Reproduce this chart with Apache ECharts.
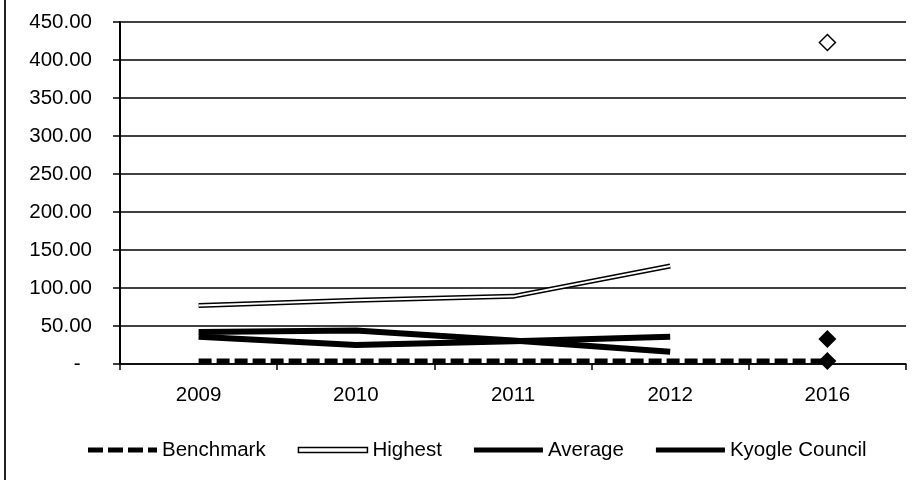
<!DOCTYPE html>
<html>
<head>
<meta charset="utf-8">
<script src="https://cdn.jsdelivr.net/npm/echarts@6/dist/echarts.min.js"></script>
<style>
html,body{margin:0;padding:0;background:#fff;}
#chart{width:923px;height:480px;}
</style>
</head>
<body>
<div id="chart"></div>
<script>
const categories = ['2009', '2010', '2011', '2012', '2016'];
const benchmark = [4, 4, 4, 4, 4];
const highest = [77, 84, 89, 129, null];
const average = [42, 44, 31, 16, null];
const kyogle = [36, 25, 30, 36, null];
const highest2016 = [null, null, null, null, 423];
const kyogle2016 = [null, null, null, null, 33];
const benchmark2016 = [null, null, null, null, 4];
const yTicks = [0, 50, 100, 150, 200, 250, 300, 350, 400, 450];

const FONT = '"Liberation Sans", Arial, sans-serif';
const DASH_ICON = 'path://M0,0h15v5h-15z M20,0h15v5h-15z M40,0h15v5h-15z M60,0h9v5h-9z';
const chart = echarts.init(document.getElementById('chart'));
chart.setOption({
  animation: false,
  backgroundColor: '#fff',
  graphic: [{
    type: 'line', shape: {x1: 5, y1: 0, x2: 5, y2: 480},
    style: {stroke: '#222', lineWidth: 2}
  }],
  grid: {left: 120, right: 17, top: 22, bottom: 116},
  legend: {
    left: 83, top: 434,
    itemWidth: 69, itemHeight: 5, itemGap: 32,
    textStyle: {fontFamily: FONT, fontSize: 20.5, color: '#000', lineHeight: 22},
    data: [
      {name: 'Benchmark', icon: DASH_ICON, itemStyle: {color: '#000'}},
      {name: 'Highest', icon: 'rect', itemStyle: {color: '#fff', borderColor: '#000', borderWidth: 1.5}},
      {name: 'Average', icon: 'rect', itemStyle: {color: '#000'}},
      {name: 'Kyogle Council', icon: 'rect', itemStyle: {color: '#000'}}
    ]
  },
  xAxis: {
    type: 'category', data: categories,
    axisLine: {lineStyle: {color: '#000', width: 1.5}},
    axisTick: {show: true, length: 6, lineStyle: {color: '#000', width: 1.5}},
    axisLabel: {fontFamily: FONT, fontSize: 20.5, color: '#000', margin: 21}
  },
  yAxis: {
    type: 'value', min: yTicks[0], max: yTicks[yTicks.length - 1], interval: 50,
    axisLine: {show: true, lineStyle: {color: '#000', width: 2}},
    axisTick: {show: true, length: 7, lineStyle: {color: '#000', width: 1.5}},
    splitLine: {show: true, lineStyle: {color: '#000', width: 1.5}},
    axisLabel: {
      fontFamily: FONT, fontSize: 20.5, color: '#000', margin: 28,
      formatter: v => v === 0 ? '-  ' : v.toFixed(2)
    }
  },
  series: [
    {name: 'Benchmark', type: 'line', data: benchmark, symbol: 'none', z: 3,
     lineStyle: {color: '#000', width: 5, type: [13, 5]}, itemStyle: {color: '#000'}},
    {name: 'Highest', type: 'line', data: highest, symbol: 'none', z: 3,
     lineStyle: {color: '#000', width: 5}, itemStyle: {color: '#000'}},
    {name: 'Highest inner', type: 'line', data: highest, symbol: 'none', z: 4,
     lineStyle: {color: '#fff', width: 2}, itemStyle: {color: '#fff'}},
    {name: 'Average', type: 'line', data: average, symbol: 'none', z: 3,
     lineStyle: {color: '#000', width: 6}, itemStyle: {color: '#000'}},
    {name: 'Kyogle Council', type: 'line', data: kyogle, symbol: 'none', z: 3,
     lineStyle: {color: '#000', width: 6}, itemStyle: {color: '#000'}},
    {name: 'Highest 2016', type: 'scatter', data: highest2016, symbol: 'diamond', symbolSize: 16, z: 5,
     itemStyle: {color: '#fff', borderColor: '#000', borderWidth: 1.5, opacity: 1}},
    {name: 'Kyogle 2016', type: 'scatter', data: kyogle2016, symbol: 'diamond', symbolSize: 18, z: 5,
     itemStyle: {color: '#000', opacity: 1}},
    {name: 'Benchmark 2016', type: 'scatter', data: benchmark2016, symbol: 'diamond', symbolSize: 18, z: 5,
     itemStyle: {color: '#000', opacity: 1}}
  ]
});
</script>
</body>
</html>
